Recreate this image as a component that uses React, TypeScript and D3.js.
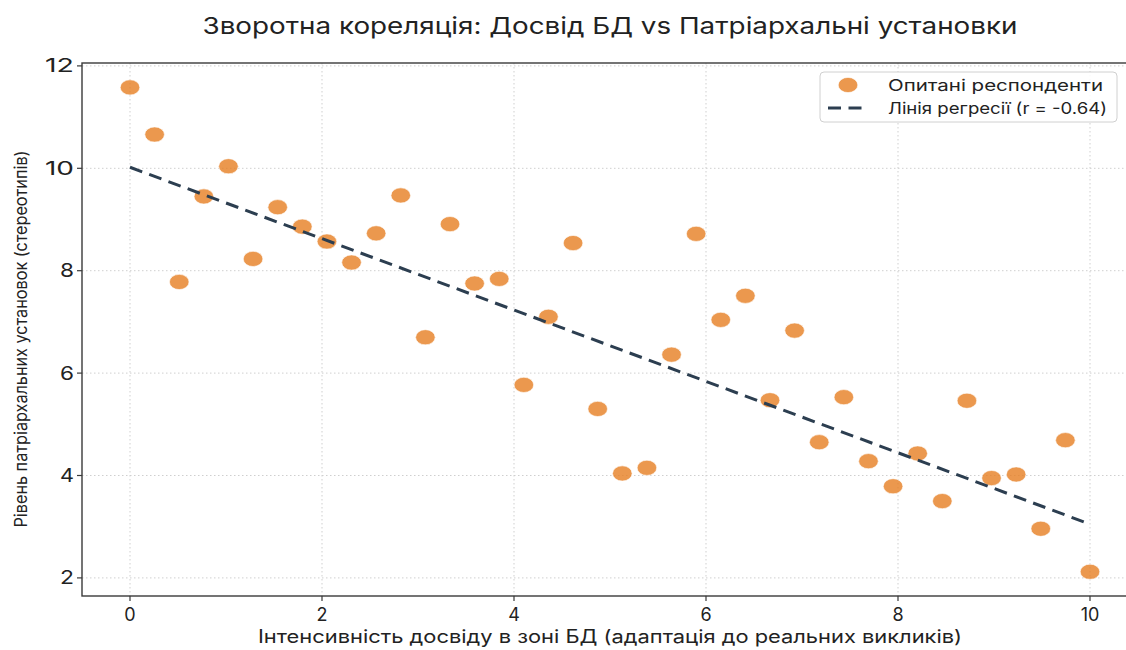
import React from "react";
import * as d3 from "d3";

const title = "Зворотна кореляція: Досвід БД vs Патріархальні установки";
const xLabel = "Інтенсивність досвіду в зоні БД (адаптація до реальних викликів)";
const yLabel = "Рівень патріархальних установок (стереотипів)";
const legendPoints = "Опитані респонденти";
const legendLine = "Лінія регресії (r = -0.64)";

const xTicks = [0, 2, 4, 6, 8, 10];
const yTicks = [2, 4, 6, 8, 10, 12];

const experience = d3.range(40).map((i) => (i * 10) / 39);
const attitudes = [
  11.58, 10.66, 7.78, 9.45, 10.04, 8.23, 9.24, 8.86, 8.57, 8.16,
  8.73, 9.47, 6.70, 8.91, 7.75, 7.84, 5.77, 7.10, 8.54, 5.30,
  4.04, 4.15, 6.36, 8.72, 7.04, 7.51, 5.47, 6.83, 4.65, 5.53,
  4.28, 3.79, 4.43, 3.50, 5.46, 3.95, 4.02, 2.96, 4.69, 2.12,
];

// regression line as shown in the chart
const regIntercept = 10.02;
const regSlope = -0.697;
const regRange = [0, 10];

const W = 1126;
const H = 650;
const left = 82;
const right = 1138;
const top = 63;
const bottom = 596;

export default function App() {
  const x = d3.scaleLinear().domain([-0.5, 10.5]).range([left, right]);
  const y = d3.scaleLinear().domain([8, 6]).range([270.7, 373.1]);

  const lineGen = d3
    .line<number>()
    .x((d) => x(d))
    .y((d) => y(regIntercept + regSlope * d));

  const font = "Inter, 'Noto Sans', sans-serif";
  const orange = "#e67e22";
  const navy = "#2c3e50";

  return (
    <svg width={W} height={H} style={{ position: "absolute", left: 0, top: 0, background: "#fff" }}>
      <defs>
        <clipPath id="plot">
          <rect x={left} y={top} width={right - left} height={bottom - top} />
        </clipPath>
      </defs>
      <rect x={0} y={0} width={W} height={H} fill="#fff" />
      {/* grid */}
      <g stroke="#cfcfcf" strokeWidth={1} strokeDasharray="1.5,2.5">
        {xTicks.map((t) => (
          <line key={"gx" + t} x1={x(t)} x2={x(t)} y1={top} y2={bottom} />
        ))}
        {yTicks.map((t) => (
          <line key={"gy" + t} x1={left} x2={right} y1={y(t)} y2={y(t)} />
        ))}
      </g>
      {/* points */}
      <g clipPath="url(#plot)">
        {experience.map((xv, i) => (
          <ellipse
            key={i}
            cx={x(xv)}
            cy={y(attitudes[i])}
            rx={9.8}
            ry={7.6}
            fill={orange}
            fillOpacity={0.8}
            stroke="#fff"
            strokeOpacity={0.6}
            strokeWidth={1}
          />
        ))}
        <path
          d={lineGen(regRange) || ""}
          fill="none"
          stroke={navy}
          strokeWidth={3}
          strokeDasharray="13,7.5"
        />
      </g>
      {/* spines */}
      <rect
        x={left}
        y={top}
        width={right - left}
        height={bottom - top}
        fill="none"
        stroke="#3a3a3a"
        strokeWidth={1.4}
      />
      {/* ticks */}
      <g stroke="#3a3a3a" strokeWidth={1.2}>
        {xTicks.map((t) => (
          <line key={"tx" + t} x1={x(t)} x2={x(t)} y1={bottom} y2={bottom + 5} />
        ))}
        {yTicks.map((t) => (
          <line key={"ty" + t} x1={left - 5} x2={left} y1={y(t)} y2={y(t)} />
        ))}
      </g>
      <g fontFamily={font} fill="#222">
        {xTicks.map((t) => (
          <text key={"lx" + t} x={x(t)} y={621} textAnchor="middle" fontSize={18}>
            {t}
          </text>
        ))}
        {yTicks.map((t) => (
          <text
            key={"ly" + t}
            x={74}
            y={y(t) + 6.5}
            textAnchor="end"
            fontSize={19}
            textLength={t >= 10 ? 29 : 14}
            lengthAdjust="spacingAndGlyphs"
          >
            {t}
          </text>
        ))}
      </g>
      {/* labels */}
      <text
        x={610}
        y={34}
        textAnchor="middle"
        fontFamily={font}
        fontSize={23}
        fill="#222"
        textLength={815}
        lengthAdjust="spacingAndGlyphs"
      >
        {title}
      </text>
      <text
        x={610}
        y={643}
        textAnchor="middle"
        fontFamily={font}
        fontSize={18}
        fill="#222"
        textLength={704}
        lengthAdjust="spacingAndGlyphs"
      >
        {xLabel}
      </text>
      <text
        transform={`translate(27, 339) rotate(-90)`}
        textAnchor="middle"
        fontFamily={font}
        fontSize={17}
        fill="#222"
        textLength={377}
        lengthAdjust="spacingAndGlyphs"
      >
        {yLabel}
      </text>
      {/* legend */}
      <g>
        <rect x={820} y={72} width={297} height={50} rx={4} fill="#fff" fillOpacity={0.85} stroke="#d0d0d0" strokeWidth={1} />
        <ellipse cx={848} cy={85} rx={9.8} ry={7.6} fill={orange} fillOpacity={0.8} stroke="#fff" strokeOpacity={0.6} />
        <line x1={828} x2={866} y1={108} y2={108} stroke={navy} strokeWidth={3} strokeDasharray="13,7.5" />
        <text x={888} y={91} fontFamily={font} fontSize={16} fill="#222" textLength={215} lengthAdjust="spacingAndGlyphs">
          {legendPoints}
        </text>
        <text x={888} y={114} fontFamily={font} fontSize={16} fill="#222" textLength={219} lengthAdjust="spacingAndGlyphs">
          {legendLine}
        </text>
      </g>
    </svg>
  );
}
